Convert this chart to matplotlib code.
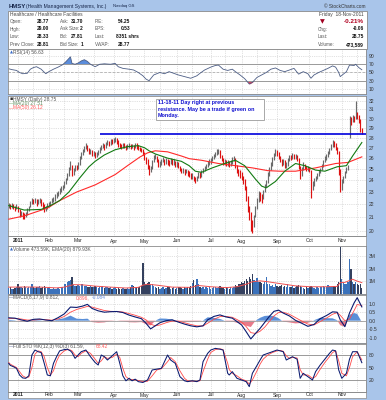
import numpy as np
import pandas as pd
import matplotlib
matplotlib.use("Agg")
import matplotlib.pyplot as plt
from matplotlib.patches import Rectangle
from matplotlib.transforms import blended_transform_factory

# Trading days shown: 23-Dec-2010 .. 18-Nov-2011 (day 0 = 3-Jan-2011)
holidays = ["2010-12-24", "2011-01-17", "2011-02-21", "2011-04-22",
            "2011-05-30", "2011-07-04", "2011-09-05"]
dates = pd.bdate_range("2010-12-23", "2011-11-18")
dates = dates[~dates.isin(pd.to_datetime(holidays))]
day = np.arange(len(dates)) - 6

# Daily prices
close = np.array([
    21.9, 21.8, 21.9, 21.8, 21.7, 21.8,
    21.5, 21.2, 21.3, 21.1, 21.0, 21.3, 21.5, 21.8, 22.1, 22.3,
    22.2, 22.3, 22.1, 22.2, 22.3, 22.1, 21.9, 21.6, 21.7, 21.9,
    22.0, 22.2, 22.3, 22.4, 22.6, 22.8, 22.9, 23.1, 23.3, 23.4,
    23.7, 24.0, 24.4, 25.0, 25.4, 24.6, 24.9, 25.2, 25.1, 25.4,
    26.0, 26.4, 26.7, 27.0, 27.2, 26.9, 26.6, 26.7, 26.4, 26.5,
    26.2, 26.4, 26.6, 26.9, 27.1, 27.3, 27.0, 27.4, 27.6, 27.4,
    27.7, 27.6, 27.8, 27.9, 27.7, 27.3, 27.2, 27.1, 27.3, 27.2,
    27.0, 27.2, 27.3, 27.1, 27.2, 27.0, 27.3, 27.2, 27.0, 26.9,
    26.8, 26.5, 26.0, 25.8, 25.3, 24.8, 25.0, 25.7, 26.1, 26.2,
    25.8, 25.4, 25.5, 25.7, 25.9, 25.6, 25.8, 25.7, 25.5, 25.8,
    25.6, 25.7, 25.4, 25.5, 25.3, 25.0, 24.8, 24.9, 24.7, 24.8,
    24.6, 24.5, 24.3, 24.4, 24.1, 24.0, 24.2, 24.5, 24.4, 24.7,
    24.9, 25.1, 25.3, 25.5, 25.7, 25.8, 26.0, 26.2, 26.4, 26.6,
    26.7, 26.2, 25.9, 25.6, 25.7, 25.5, 25.6, 25.4, 25.6, 25.9,
    26.0, 25.3, 24.9, 24.7, 24.5, 24.3, 24.0, 23.4, 22.6, 21.6,
    21.3, 20.4, 20.2, 21.0, 21.7, 22.3, 22.9, 22.6, 22.4, 23.0,
    23.5, 23.8, 24.5, 25.0, 25.4, 25.9, 26.3, 26.6, 26.5, 26.1,
    25.8, 25.5, 25.7, 25.3, 25.4, 25.8, 26.1, 26.0, 26.3, 26.1,
    26.2, 25.9, 25.2, 24.5, 25.0, 25.4, 25.2, 25.0, 25.1, 24.9,
    23.3, 23.6, 24.0, 24.2, 24.4, 24.7, 24.9, 25.3, 25.6, 26.0,
    26.1, 26.5, 26.8, 27.2, 27.5, 27.4, 27.0, 26.6, 24.8, 23.4,
    23.9, 24.2, 24.6, 25.0, 25.2, 30.0, 29.6, 30.1, 29.9, 30.5,
    30.3, 29.7, 28.81, 28.75])

high = np.array([
    22.1, 22.0, 22.1, 22.0, 21.9, 22.0,
    21.9, 21.6, 21.5, 21.4, 21.3, 21.4, 21.7, 21.9, 22.3, 22.5,
    22.4, 22.5, 22.4, 22.4, 22.5, 22.4, 22.2, 22.0, 21.9, 22.1,
    22.2, 22.3, 22.5, 22.6, 22.8, 23.0, 23.1, 23.3, 23.5, 23.6,
    23.9, 24.2, 24.6, 25.2, 25.7, 25.4, 25.1, 25.4, 25.4, 25.6,
    26.2, 26.6, 26.9, 27.2, 27.5, 27.3, 27.0, 26.9, 26.8, 26.7,
    26.6, 26.6, 26.8, 27.1, 27.3, 27.5, 27.4, 27.6, 27.8, 27.7,
    27.9, 27.9, 28.0, 28.1, 28.0, 27.8, 27.5, 27.4, 27.5, 27.5,
    27.3, 27.4, 27.5, 27.4, 27.4, 27.3, 27.5, 27.5, 27.3, 27.1,
    27.0, 26.9, 26.6, 26.1, 25.9, 25.4, 25.3, 25.8, 26.3, 26.4,
    26.2, 25.9, 25.7, 25.9, 26.1, 25.9, 26.0, 25.9, 25.8, 26.0,
    25.9, 25.9, 25.7, 25.7, 25.6, 25.3, 25.1, 25.1, 25.0, 25.0,
    24.9, 24.8, 24.6, 24.6, 24.4, 24.3, 24.4, 24.7, 24.7, 24.9,
    25.1, 25.3, 25.5, 25.7, 25.9, 26.0, 26.2, 26.4, 26.6, 26.9,
    26.9, 26.8, 26.3, 26.0, 25.9, 25.8, 25.8, 25.7, 25.8, 26.1,
    26.2, 26.0, 25.4, 25.0, 24.9, 24.7, 24.4, 24.1, 23.5, 22.7,
    21.9, 21.4, 20.8, 21.2, 21.9, 22.5, 23.1, 23.0, 22.8, 23.2,
    23.7, 24.0, 24.7, 25.2, 25.6, 26.1, 26.5, 26.9, 26.8, 26.6,
    26.2, 25.9, 25.9, 25.8, 25.6, 26.0, 26.3, 26.3, 26.5, 26.4,
    26.4, 26.3, 26.0, 25.3, 25.2, 25.6, 25.5, 25.3, 25.3, 25.2,
    24.9, 23.9, 24.2, 24.4, 24.6, 24.9, 25.1, 25.5, 25.8, 26.2,
    26.4, 26.7, 27.0, 27.4, 27.8, 27.7, 27.5, 27.1, 26.7, 25.0,
    24.1, 24.4, 24.8, 25.2, 25.4, 30.3, 30.2, 30.4, 30.3, 32.0,
    30.7, 30.4, 29.9, 29.00])

low = np.array([
    21.7, 21.6, 21.7, 21.6, 21.5, 21.6,
    21.4, 21.0, 21.1, 20.9, 20.9, 21.0, 21.2, 21.5, 21.8, 22.0,
    22.0, 22.1, 21.9, 22.0, 22.1, 21.9, 21.6, 21.4, 21.5, 21.6,
    21.8, 21.9, 22.1, 22.2, 22.3, 22.5, 22.7, 22.8, 23.0, 23.2,
    23.3, 23.7, 24.0, 24.4, 24.9, 24.4, 24.5, 24.8, 24.9, 25.0,
    25.4, 25.9, 26.3, 26.6, 26.9, 26.7, 26.4, 26.4, 26.2, 26.2,
    26.0, 26.1, 26.3, 26.5, 26.8, 27.0, 26.8, 27.0, 27.3, 27.2,
    27.3, 27.4, 27.5, 27.6, 27.4, 27.1, 27.0, 26.9, 27.0, 27.0,
    26.8, 26.9, 27.0, 26.9, 27.0, 26.8, 27.0, 26.9, 26.8, 26.7,
    26.6, 26.3, 25.8, 25.5, 25.0, 24.5, 24.7, 25.0, 25.6, 25.9,
    25.6, 25.2, 25.2, 25.4, 25.6, 25.4, 25.5, 25.4, 25.3, 25.5,
    25.4, 25.4, 25.2, 25.2, 25.1, 24.8, 24.6, 24.6, 24.5, 24.6,
    24.4, 24.3, 24.1, 24.1, 23.9, 23.8, 23.9, 24.2, 24.2, 24.3,
    24.6, 24.8, 25.0, 25.2, 25.4, 25.5, 25.7, 25.9, 26.1, 26.3,
    26.4, 26.0, 25.7, 25.4, 25.4, 25.3, 25.3, 25.2, 25.3, 25.5,
    25.7, 25.1, 24.6, 24.4, 24.2, 24.0, 23.7, 23.2, 22.3, 21.4,
    20.8, 20.0, 19.8, 20.3, 21.0, 21.6, 22.2, 22.3, 22.1, 22.4,
    23.0, 23.4, 23.8, 24.4, 24.9, 25.3, 25.8, 26.2, 26.2, 25.9,
    25.6, 25.3, 25.4, 25.1, 25.1, 25.3, 25.7, 25.8, 25.9, 25.9,
    25.9, 25.7, 25.0, 24.1, 24.4, 24.9, 25.0, 24.8, 24.8, 24.7,
    22.5, 23.2, 23.5, 23.9, 24.1, 24.4, 24.6, 24.9, 25.2, 25.6,
    25.8, 26.1, 26.4, 26.8, 27.1, 27.1, 26.8, 26.4, 24.5, 23.0,
    23.2, 23.8, 24.2, 24.6, 24.9, 28.0, 29.3, 29.6, 29.6, 30.0,
    30.0, 29.5, 28.6, 28.33])

# Volume in millions of shares
volume = np.array([
    0.45, 0.5, 0.4, 0.35, 0.45, 0.5,
    0.75, 0.55, 0.5, 0.45, 0.6, 0.5, 0.45, 0.55, 0.5, 0.75,
    0.5, 0.45, 0.55, 0.5, 0.6, 0.45, 0.55, 0.6, 0.5, 0.45,
    0.5, 0.4, 0.35, 0.45, 0.4, 0.35, 0.45, 0.4, 0.5, 0.55,
    0.75, 0.8, 0.9, 1.0, 1.1, 1.3, 0.7, 0.6, 0.65, 0.7,
    0.6, 0.75, 0.8, 0.6, 0.65, 0.55, 0.5, 0.6, 0.55, 0.5,
    0.65, 0.5, 0.45, 0.55, 0.5, 0.6, 0.45, 0.5, 0.55, 0.45,
    0.5, 0.4, 0.45, 0.5, 0.4, 0.45, 0.35, 0.4, 0.45, 0.4,
    0.35, 0.45, 0.4, 0.5, 0.7, 0.6, 0.45, 0.5, 0.55, 0.5,
    0.6, 2.45, 0.95, 0.8, 0.85, 0.9, 0.7, 0.75, 0.65, 0.5,
    0.45, 0.55, 0.4, 0.45, 0.5, 0.4, 0.45, 0.5, 0.55, 0.4,
    0.45, 0.5, 0.4, 0.45, 0.55, 0.5, 0.45, 0.4, 0.5, 0.45,
    0.55, 0.5, 0.6, 0.85, 1.1, 0.7, 1.2, 0.8, 0.5, 0.45,
    0.55, 0.4, 0.5, 0.45, 0.5, 0.4, 0.45, 0.5, 0.55, 0.45,
    0.5, 0.6, 0.5, 0.45, 0.4, 0.5, 0.45, 0.4, 0.5, 0.45,
    0.55, 0.7, 0.6, 0.8, 0.75, 0.95, 0.85, 1.05, 1.15, 1.0,
    1.3, 1.2, 1.6, 1.1, 1.0, 1.25, 0.95, 0.9, 0.85, 0.8,
    0.9, 1.3, 0.75, 0.8, 0.6, 0.7, 0.55, 0.75, 0.6, 0.5,
    0.65, 0.7, 0.55, 0.6, 0.5, 0.75, 0.55, 0.5, 0.6, 0.45,
    0.55, 0.6, 0.7, 0.65, 0.5, 0.45, 0.4, 0.5, 0.45, 0.55,
    0.6, 0.5, 0.45, 0.4, 0.5, 0.45, 0.55, 0.5, 0.6, 0.5,
    0.55, 0.7, 0.6, 0.55, 0.5, 0.65, 0.5, 0.8, 0.9, 3.75,
    1.2, 0.9, 0.8, 0.8, 0.9, 2.8, 2.0, 0.95, 0.8, 0.9,
    0.75, 0.7, 0.8, 0.47])

vol_ema_day = [-6, 5, 15, 25, 30, 36, 42, 50, 60, 70, 78, 81, 84, 90, 100, 112, 117,
               125, 135, 142, 148, 152, 157, 162, 170, 180, 190, 200, 207, 209, 212,
               215, 217, 220, 223]
vol_ema = [0.52, 0.53, 0.52, 0.46, 0.52, 0.72, 0.7, 0.6, 0.52, 0.45, 0.5, 0.68, 0.75,
           0.68, 0.52, 0.5, 0.65, 0.55, 0.48, 0.55, 0.75, 0.95, 1.02, 0.95, 0.8, 0.62,
           0.55, 0.55, 0.58, 0.88, 0.9, 1.05, 1.15, 1.0, 0.88]

# Moving averages
ma20_day = [-6, 4, 15, 21, 27, 33, 40, 46, 50, 56, 63, 71, 78, 82, 85, 89, 97, 106,
            111, 115, 119, 126, 134, 141, 147, 154, 158, 161, 167, 173, 180, 186, 193,
            199, 207, 213, 217, 223]
ma20 = [21.9, 21.55, 21.6, 21.9, 22.3, 23.0, 24.2, 25.2, 25.7, 26.3, 26.8, 27.1, 27.2,
        27.0, 26.7, 26.4, 26.0, 25.7, 25.3, 24.8, 24.7, 25.1, 25.5, 25.8, 25.3, 24.1,
        23.5, 23.35, 23.9, 24.8, 25.5, 25.3, 24.9, 24.8, 25.2, 25.3, 26.2, 27.51]
ma50_day = [-6, 4, 19, 27, 38, 50, 63, 71, 79, 84, 89, 97, 106, 111, 119, 130, 141,
            152, 162, 170, 180, 193, 206, 214, 223]
ma50 = [20.85, 21.1, 21.7, 22.3, 23.0, 23.6, 24.5, 25.3, 26.1, 26.5, 26.7, 26.6, 26.2,
        25.95, 25.8, 25.5, 25.3, 25.1, 24.85, 24.8, 24.8, 25.1, 25.5, 25.6, 26.12]
resistance = 28.37
resistance_from = 53

# RSI(14)
rsi_day = [-6, -4, -1, 1, 3, 6, 8, 10, 12, 15, 18, 20, 23, 26, 29, 31, 33, 34, 35, 37,
           39, 41, 43, 45, 47, 50, 53, 56, 60, 63, 65, 68, 72, 75, 78, 81, 83, 85, 88,
           92, 95, 98, 101, 104, 108, 112, 116, 118, 121, 125, 128, 130, 133, 136, 139,
           141, 144, 147, 150, 152, 155, 158, 161, 164, 167, 170, 173, 176, 179, 182,
           185, 188, 190, 192, 195, 198, 201, 204, 206, 208, 209, 211, 213, 215, 218,
           219, 221, 223]
rsi = [59, 57, 55, 50, 47, 48, 58, 62, 64, 58, 47, 52, 58, 63, 69, 76, 84, 88, 72, 70,
       73, 78, 81, 77, 70, 64, 70, 71, 70, 72, 64, 60, 58, 56, 50, 42, 34, 30, 44,
       50, 47, 52, 48, 44, 40, 36, 42, 48, 56, 63, 67, 68, 58, 55, 58,
       52, 44, 35, 22, 26, 38, 44, 50, 58, 61, 55, 52, 56, 60, 46,
       52, 47, 36, 44, 50, 55, 60, 66, 63, 50, 40, 46, 52, 68, 67,
       70, 62, 56.63]

# MACD(8,17,9) and signal line
macd_day = [-6, -2, 2, 6, 10, 14, 18, 22, 26, 30, 34, 38, 42, 45, 48, 52, 56, 60, 64,
            68, 72, 76, 80, 83, 86, 89, 92, 96, 100, 104, 108, 112, 116, 120, 123, 127,
            131, 135, 139, 142, 145, 148, 151, 154, 157, 160, 163, 166, 169, 172, 176,
            180, 184, 188, 192, 196, 200, 204, 207, 209, 212, 215, 218, 220, 223]
macd = [0.17, 0.15, 0.05, -0.03, 0.08, 0.1, 0.04, 0.0, 0.18, 0.4, 0.8, 0.78, 0.86, 0.96,
        0.72, 0.58, 0.5, 0.53, 0.54, 0.48, 0.33, 0.22, 0.12, -0.15, -0.48, -0.3, -0.12,
        0.0, 0.05, -0.08, -0.2, -0.3, -0.36, -0.3, 0.05, 0.25, 0.34, 0.22, 0.15, -0.05,
        -0.25, -0.65, -1.07, -0.75, -0.45, -0.1, 0.25, 0.55, 0.62, 0.45, 0.28, 0.02,
        -0.15, -0.33, -0.22, 0.12, 0.3, 0.52, 0.5, 0.05, -0.35, 0.45, 1.05, 1.35, 0.812]
signal = [0.12, 0.13, 0.1, 0.04, 0.04, 0.07, 0.06, 0.03, 0.1, 0.25, 0.5, 0.66, 0.76,
          0.84, 0.8, 0.7, 0.6, 0.55, 0.54, 0.51, 0.42, 0.32, 0.2, 0.05, -0.2, -0.3,
          -0.25, -0.12, -0.02, -0.03, -0.12, -0.22, -0.3, -0.31, -0.15, 0.08, 0.24,
          0.25, 0.2, 0.07, -0.08, -0.35, -0.7, -0.75, -0.62, -0.38, -0.05, 0.28, 0.48,
          0.5, 0.38, 0.18, -0.02, -0.2, -0.25, -0.05, 0.15, 0.38, 0.47, 0.32, 0.0, 0.1,
          0.6, 0.95, 0.896]

# Full Stochastics %K(12,3) %D(3)
sto_day = [-6, -5, -3, -1, 1, 3, 5, 7, 9, 11, 13, 15, 17, 19, 21, 23, 25, 27, 30, 32,
           34, 35, 37, 39, 41, 44, 47, 50, 52, 54, 56, 58, 61, 64, 66, 68, 70, 72, 74,
           76, 78, 81, 84, 87, 90, 93, 97, 99, 102, 105, 108, 110, 113, 116, 118, 120,
           123, 125, 128, 131, 133, 136, 137, 139, 142, 145, 148, 150, 152, 155, 157,
           159, 162, 165, 168, 170, 172, 174, 176, 178, 181, 183, 185, 188, 191, 193,
           196, 199, 202, 204, 206, 208, 210, 213, 215, 217, 220, 223]
sto_k = [60, 55, 52, 48, 32, 25, 24, 30, 80, 92, 88, 86, 60, 32, 30, 60, 76, 90, 93, 94,
         90, 86, 72, 80, 88, 92, 76, 62, 56, 80, 76, 68, 78, 88, 60, 30, 18, 24, 18,
         22, 16, 14, 20, 44, 46, 48, 80, 68, 60, 28, 18, 16, 18, 16, 20, 64,
         84, 92, 96, 94, 92, 36, 32, 40, 24, 20, 16, 4, 36, 55, 68,
         80, 84, 88, 92, 90, 88, 68, 72, 76, 70, 24, 36, 28, 20, 40,
         56, 70, 84, 92, 90, 44, 24, 36, 70, 88, 88, 61.59]
sto_d = [62, 58, 54, 50, 40, 30, 26, 27, 50, 82, 90, 88, 76, 50, 32, 42, 65, 80, 90, 93,
         92, 90, 80, 76, 84, 90, 84, 70, 60, 66, 76, 72, 74, 82, 74, 48, 28, 22, 21,
         20, 19, 16, 17, 30, 44, 47, 64, 74, 64, 42, 24, 18, 17, 17, 18, 40,
         70, 86, 93, 95, 93, 60, 45, 36, 30, 22, 18, 10, 20, 42, 58,
         70, 80, 86, 90, 91, 89, 78, 72, 74, 73, 45, 32, 32, 24, 28,
         46, 62, 76, 86, 90, 66, 36, 30, 50, 76, 88, 68.42]

# ---------------------------------------------------------------------------
plt.rcParams['font.family'] = ['Liberation Sans', 'DejaVu Sans']
W, H = 386, 400
fig = plt.figure(figsize=(W / 100, H / 100), dpi=100)
fig.patch.set_facecolor('#a9c5ea')

def fx(x):
    return x / W

def fy(y):
    return 1 - y / H

XL, XR = -6.5, 225.7
AX_L, AX_R = 8, 366

# month ticks and half-month gridlines
month_pos, month_lab, grid_pos = [], [], []
for i in range(1, len(dates)):
    if dates[i].month != dates[i - 1].month:
        month_pos.append(day[i])
        month_lab.append('2011' if dates[i].month == 1 else dates[i].strftime('%b'))
    if dates[i].day >= 15 and dates[i - 1].day < 15:
        grid_pos.append(day[i])
grid_pos = sorted(grid_pos + month_pos)


def panel(top, bottom):
    ax = fig.add_axes([fx(AX_L), fy(bottom), (AX_R - AX_L) / W, (bottom - top) / H])
    ax.set_facecolor('white')
    for s in ax.spines.values():
        s.set_color('#8a8a8a')
        s.set_linewidth(0.6)
    ax.set_xlim(XL, XR)
    ax.yaxis.tick_right()
    ax.tick_params(axis='y', which='both', length=0, pad=2, labelsize=3.6,
                   labelcolor='#333333')
    ax.set_xticks(grid_pos)
    ax.tick_params(axis='x', length=0, labelbottom=False)
    ax.grid(True, color='#c4c4c4', ls=':', lw=0.5)
    ax.set_axisbelow(True)
    return ax


def label_strip(top, bottom):
    fig.add_artist(Rectangle((fx(AX_L), fy(bottom)), (AX_R - AX_L) / W, (bottom - top) / H,
                             transform=fig.transFigure, facecolor='white',
                             edgecolor='#8a8a8a', lw=0.5, zorder=-1))


def month_labels(ax, ytext):
    tr = blended_transform_factory(ax.transData, fig.transFigure)
    for p, lab in zip(month_pos, month_lab):
        ax.text(p, fy(ytext), lab, transform=tr, ha='center', va='center', fontsize=3.6,
                color='#222222', fontweight='bold' if lab == '2011' else 'normal',
                clip_on=False)


def ftext(x, y, s, **kw):
    kw.setdefault('fontsize', 3.5)
    kw.setdefault('va', 'center')
    fig.text(fx(x), fy(y), s, **kw)

# ---- title and quote box
ftext(8.5, 6, "HMSY", fontsize=4.3, fontweight='bold', color='#17264a')
ftext(26.5, 6.3, "(Health Management Systems, Inc.)", fontsize=3.6, color='#17264a')
ftext(113, 6.5, "Nasdaq GS", fontsize=3.0, color='#17264a')
ftext(366, 6.3, "\u00a9 StockCharts.com", fontsize=3.4, color='#333333', ha='right')

fig.add_artist(Rectangle((fx(8), fy(49)), (367 - 8) / W, (49 - 11) / H,
                         transform=fig.transFigure, facecolor='white',
                         edgecolor='#8a8a8a', lw=0.6))
ftext(10, 14.5, "Healthcare / Healthcare Facilities", color='#444444')
ftext(364, 14.5, "Friday  18-Nov-2011", color='#444444', ha='right')

rows_y = [21.5, 29, 36.7, 44.2]
col1 = [("Open:", "28.77"), ("High:", "29.00"), ("Low:", "28.33"), ("Prev Close:", "28.81")]
col2 = [("Ask:", "31.70"), ("Ask Size:", "2"), ("Bid:", "27.81"), ("Bid Size:", "1")]
col3 = [("P/E:", "54.25"), ("EPS:", "0.53"), ("Last:", "8351 shrs"), ("VWAP:", "28.77")]
for y, (a, b), (c, d), (e, f) in zip(rows_y, col1, col2, col3):
    ftext(10, y, a, color='#555555', fontsize=3.3)
    ftext(49.5, y, b, color='#111111', fontweight='bold', ha='right', fontsize=3.5)
    ftext(60, y, c, color='#555555', fontsize=3.3)
    ftext(83, y, d, color='#111111', fontweight='bold', ha='right', fontsize=3.5)
    ftext(95, y, e, color='#555555', fontsize=3.3)
    ftext(130 if f != "8351 shrs" else 139, y, f, color='#111111', fontweight='bold',
          ha='right', fontsize=3.5)

ftext(322, 21.5, "\u25bc", color='#a00020', fontsize=4.5, ha='center', family='DejaVu Sans')
ftext(364, 21.5, "-0.21%", color='#b00020', fontsize=4.6, fontweight='bold', ha='right')
right_rows = [("Chg:", "-0.06"), ("Last:", "28.75"), ("Volume:", "473,589")]
for y, (a, b) in zip(rows_y[1:], right_rows):
    ftext(318, y, a, color='#555555', fontsize=3.3)
    ftext(364, y, b, color='#111111', fontweight='bold', ha='right')

# ---- RSI panel
ax_rsi = panel(49, 94)
rsi_d = np.array(rsi_day)
rsi_v = np.array(rsi)
ax_rsi.set_ylim(-2.2, 107)
ax_rsi.set_yticks([10, 30, 50, 70, 90])
ax_rsi.axhline(70, color='#9a9a9a', lw=0.7)
ax_rsi.axhline(30, color='#9a9a9a', lw=0.7)
ax_rsi.axhline(50, color='#b0b0b0', lw=0.6, ls='--', dashes=(3, 2))
ax_rsi.fill_between(rsi_d, 70, rsi_v, where=rsi_v > 70, interpolate=True,
                    color='#5b8ddb', lw=0)
ax_rsi.fill_between(rsi_d, 30, rsi_v, where=rsi_v < 30, interpolate=True,
                    color='#e8405a', lw=0)
ax_rsi.plot(rsi_d, rsi_v, color='#4c5d85', lw=0.6)
ftext(9.5, 52.3, "\u25b2", color='#3a6cc8', fontsize=2.8, family='DejaVu Sans')
ftext(13, 52.5, "RSI(14) 56.63", color='#555555', fontsize=3.5)

# ---- price panel
ax_p = panel(96, 236)
ax_p.set_yscale('log')
ax_p.set_ylim(19.62, 32.55)
ax_p.set_yticks(list(range(20, 33)))
ax_p.set_yticklabels([str(v) for v in range(20, 33)])
ax_p.yaxis.set_minor_locator(matplotlib.ticker.NullLocator())
prev = np.r_[close[0], close[:-1]]
bar_col = np.where(close >= prev, '#6a6a6a', '#dd1111')
ax_p.vlines(day, low, high, colors=bar_col, lw=0.85, zorder=3)
ax_p.plot(ma50_day, ma50, color='#ff2a2a', lw=0.8, zorder=4)
ax_p.plot(ma20_day, ma20, color='#127a12', lw=0.8, zorder=4)
ax_p.hlines(resistance, resistance_from, XR, color='#0000dd', lw=1.2, zorder=5)
ftext(9.5, 99, "\u25aa", color='#333333', fontsize=3.5, family='DejaVu Sans')
ftext(13, 99, "HMSY (Daily) 28.75", color='#555555', fontsize=3.5)
ftext(9, 103.5, "\u2014", color='#127a12', fontsize=3.0)
ftext(13, 103.5, "MA(20) 27.51", color='#5a8a5a', fontsize=3.5)
ftext(9, 108, "\u2014", color='#ff2a2a', fontsize=3.0)
ftext(13, 108, "MA(50) 26.12", color='#ff5a5a', fontsize=3.5)

fig.add_artist(Rectangle((fx(156), fy(120)), (264 - 156) / W, (120 - 99) / H,
                         transform=fig.transFigure, facecolor='white',
                         edgecolor='#9a9a9a', lw=0.6, zorder=10))
fig.text(fx(158), fy(100.3), "11-18-11 Day right at previous\nresistance. May be a trade if green on\nMonday.",
         fontsize=3.9, color='#1010d0', fontweight='bold', va='top', ha='left',
         linespacing=1.35, zorder=11)

label_strip(236, 246)
month_labels(ax_p, 241)

# ---- volume panel
ax_v = panel(246, 294)
ax_v.set_ylim(-0.03, 3.81)
ax_v.set_yticks([1, 2, 3])
ax_v.set_yticklabels(['1M', '2M', '3M'])
vol_col = np.where(close >= prev, '#3b72bb', '#34405e')
ax_v.bar(day, volume, width=0.85, color=vol_col, lw=0, zorder=3)
ax_v.plot(vol_ema_day, vol_ema, color='#f05050', lw=0.7, zorder=4)
ftext(9.5, 249.8, "\u25b2", color='#3a6cc8', fontsize=2.8, family='DejaVu Sans')
ftext(13, 250, "Volume 473.59K, EMA(20) 879.93K", color='#555555', fontsize=3.5)

# ---- MACD panel
ax_m = panel(295, 343)
ax_m.set_ylim(-1.31, 1.51)
ax_m.set_yticks([-1.0, -0.5, 0.0, 0.5, 1.0])
ax_m.set_yticklabels(['-1.0', '-0.5', '0.0', '0.5', '1.0'])
md = np.array(macd_day)
hist = np.array(macd) - np.array(signal)
ax_m.axhline(0, color='#a0a0a0', lw=0.6)
ax_m.fill_between(md, 0, hist, where=hist >= 0, interpolate=True, color='#5a8fd8', lw=0)
ax_m.fill_between(md, 0, hist, where=hist < 0, interpolate=True, color='#e87a8a', lw=0)
ax_m.plot(md, signal, color='#ff4a4a', lw=0.6, zorder=4)
ax_m.plot(md, macd, color='#0a1a70', lw=0.8, zorder=5)
ftext(9, 297.7, "\u2014", color='#0a1a70', fontsize=3.0)
ftext(13, 297.7, "MACD(8,17,9) 0.812,", color='#555555', fontsize=3.5)
ftext(76, 297.7, "0.896,", color='#ff5a5a', fontsize=3.5)
ftext(92, 297.7, "-0.084", color='#6a8ed8', fontsize=3.5)

# ---- stochastics panel
ax_s = panel(344, 392)
ax_s.set_ylim(-8.9, 106.5)
ax_s.set_yticks([20, 50, 80])
ax_s.axhline(80, color='#9a9a9a', lw=0.7)
ax_s.axhline(20, color='#9a9a9a', lw=0.7)
ax_s.axhline(50, color='#b8b8b8', lw=0.6)
ax_s.plot(sto_day, sto_d, color='#ff4a4a', lw=0.6, zorder=4)
ax_s.plot(sto_day, sto_k, color='#0a1a70', lw=0.75, zorder=5)
ftext(9, 346.7, "\u2014", color='#0a1a70', fontsize=3.0)
ftext(13, 346.7, "Full STO %K(12,3) %D(3) 61.59,", color='#555555', fontsize=3.5)
ftext(96, 346.7, "68.42", color='#ff5a5a', fontsize=3.5)

label_strip(392, 398)
month_labels(ax_s, 395)

fig.savefig("out.png", dpi=100, facecolor=fig.get_facecolor())
